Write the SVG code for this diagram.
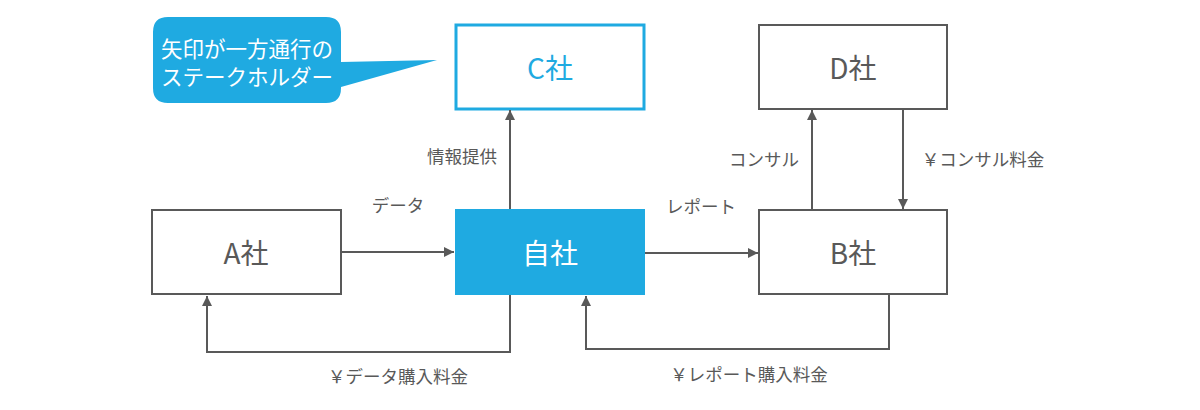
<svg xmlns="http://www.w3.org/2000/svg" width="1200" height="410" viewBox="0 0 1200 410">
<style>
text{font-family:"Noto Sans CJK JP","Noto Sans",sans-serif;}
.box{fill:#fff;stroke:#595959;stroke-width:2;}
.bt{font-size:28px;fill:#595959;text-anchor:middle;dominant-baseline:central;}
.lb{font-size:17.5px;fill:#595959;dominant-baseline:central;}
.ln{fill:none;stroke:#595959;stroke-width:2;}
</style>
<defs>
<marker id="ah" viewBox="0 0 10 10" refX="10" refY="5" markerWidth="5" markerHeight="5" orient="auto" markerUnits="strokeWidth">
<path d="M0,0 L10,5 L0,10 Z" fill="#595959"/>
</marker>
</defs>
<g id="callout">
<path d="M168,17 H326 Q341,17 341,32 V62 L437,60 L341,87 V88 Q341,103 326,103 H168 Q153,103 153,88 V32 Q153,17 168,17 Z" fill="#1FAAE1"/>
<text x="247" y="47" font-size="21.5" fill="#fff" text-anchor="middle" dominant-baseline="central">矢印が一方通行の</text>
<text x="247" y="75" font-size="21.5" fill="#fff" text-anchor="middle" dominant-baseline="central">ステークホルダー</text>
</g>
<g id="nodeC">
<rect x="456" y="25" width="188" height="84" fill="#fff" stroke="#1FAAE1" stroke-width="3"/>
<text x="550" y="67" class="bt" style="fill:#1FAAE1">C社</text>
</g>
<g id="nodeD">
<rect x="759" y="25" width="188" height="84" class="box"/>
<text x="853" y="67" class="bt">D社</text>
</g>
<g id="nodeA">
<rect x="152" y="210" width="189" height="84" class="box"/>
<text x="246" y="252" class="bt">A社</text>
</g>
<g id="nodeSelf">
<rect x="455" y="209" width="190" height="86" fill="#1FAAE1"/>
<text x="550" y="252" class="bt" style="fill:#fff">自社</text>
</g>
<g id="nodeB">
<rect x="759" y="210" width="188" height="84" class="box"/>
<text x="853" y="252" class="bt">B社</text>
</g>
<g id="connectors">
<line x1="341" y1="252" x2="454" y2="252" class="ln" marker-end="url(#ah)"/>
<line x1="645" y1="253" x2="758" y2="253" class="ln" marker-end="url(#ah)"/>
<line x1="510" y1="209" x2="510" y2="110" class="ln" marker-end="url(#ah)"/>
<line x1="812" y1="210" x2="812" y2="110" class="ln" marker-end="url(#ah)"/>
<line x1="903" y1="109" x2="903" y2="209" class="ln" marker-end="url(#ah)"/>
<polyline points="510,295 510,352 207,352 207,296" class="ln" marker-end="url(#ah)"/>
<polyline points="889,294 889,349 586,349 586,296" class="ln" marker-end="url(#ah)"/>
</g>
<g id="labels">
<text x="398" y="204" class="lb" text-anchor="middle">データ</text>
<text x="462" y="155" class="lb" text-anchor="middle">情報提供</text>
<text x="701" y="205" class="lb" text-anchor="middle">レポート</text>
<text x="764" y="158" class="lb" text-anchor="middle">コンサル</text>
<text x="983" y="158" class="lb" text-anchor="middle">￥コンサル料金</text>
<text x="398" y="375" class="lb" text-anchor="middle">￥データ購入料金</text>
<text x="749" y="373" class="lb" text-anchor="middle">￥レポート購入料金</text>
</g>
</svg>
